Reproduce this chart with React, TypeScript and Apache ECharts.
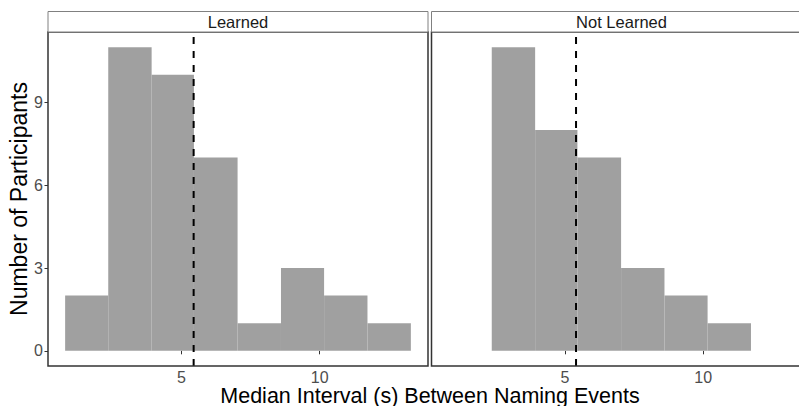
import React, { useEffect, useRef } from "react";
import * as echarts from "echarts";

const panels = ["Learned", "Not Learned"];
const binEdges = [0.79, 2.35, 3.92, 5.45, 7.03, 8.6, 10.16, 11.73, 13.3];
const countsLearned = [2, 11, 10, 7, 1, 3, 2, 1];
const countsNotLearned = [0, 11, 8, 7, 3, 2, 1, 0];
const medians = [5.44, 5.4];
const xTicks = [5, 10];
const yTicks = [0, 3, 6, 9];
const xRange = [0.17, 13.92];
const yRange = [-0.55, 11.55];
const xTitle = "Median Interval (s) Between Naming Events";
const yTitle = "Number of Participants";

const FONT = "'Liberation Sans', Arial, Helvetica, sans-serif";

export default function App() {
  const ref = useRef<HTMLDivElement>(null);
  useEffect(() => {
    if (!ref.current) return;
    const chart = echarts.init(ref.current, null, { renderer: "svg" });
    const grids = [
      { left: 48, top: 32, width: 380, height: 334 },
      { left: 431.5, top: 32, width: 380, height: 334 },
    ];
    const allCounts = [countsLearned, countsNotLearned];
    const series: any[] = [];
    allCounts.forEach((counts, i) => {
      const data = counts
        .map((c, j) => [binEdges[j], binEdges[j + 1], c])
        .filter((d) => d[2] > 0);
      series.push({
        type: "custom",
        xAxisIndex: i,
        yAxisIndex: i,
        encode: { x: [0, 1], y: 2 },
        data,
        renderItem: (params: any, api: any) => {
          const x0 = api.value(0);
          const x1 = api.value(1);
          const c = api.value(2);
          const p0 = api.coord([x0, c]);
          const p1 = api.coord([x1, 0]);
          return {
            type: "rect",
            shape: { x: p0[0], y: p0[1], width: p1[0] - p0[0], height: p1[1] - p0[1] },
            style: { fill: "#a0a0a0" },
          };
        },
        z: 1,
      });
      series.push({
        type: "line",
        xAxisIndex: i,
        yAxisIndex: i,
        data: [
          [medians[i], yRange[0]],
          [medians[i], yRange[1]],
        ],
        symbol: "none",
        lineStyle: { color: "#000", width: 2, type: [7, 7] },
        z: 3,
        silent: true,
      });
    });

    const option: any = {
      animation: false,
      grid: grids.map((g) => ({
        ...g,
        show: true,
        borderColor: "#333333",
        borderWidth: 1.5,
        backgroundColor: "transparent",
        z: 4,
      })),
      xAxis: grids.map((_, i) => ({
        type: "value",
        gridIndex: i,
        min: xRange[0],
        max: xRange[1],
        axisLine: { show: false },
        splitLine: { show: false },
        axisTick: {
          show: true,
          customValues: xTicks,
          length: 3.5,
          lineStyle: { color: "#333", width: 1 },
        },
        axisLabel: {
          customValues: xTicks,
          color: "#4d4d4d",
          fontSize: 16,
          lineHeight: 15,
          fontFamily: FONT,
          margin: 4,
        },
      })),
      yAxis: grids.map((_, i) => ({
        type: "value",
        gridIndex: i,
        min: yRange[0],
        max: yRange[1],
        axisLine: { show: false },
        splitLine: { show: false },
        axisTick: {
          show: i === 0,
          customValues: yTicks,
          length: 3.5,
          lineStyle: { color: "#333", width: 1 },
        },
        axisLabel: {
          show: i === 0,
          customValues: yTicks,
          color: "#4d4d4d",
          fontSize: 16,
          fontFamily: FONT,
          margin: 5,
        },
        name: i === 0 ? yTitle : "",
        nameLocation: "middle",
        nameGap: 15,
        nameTextStyle: { color: "#000", fontSize: 23, fontFamily: FONT },
      })),
      graphic: [
        ...grids.map((g) => ({
          type: "rect",
          shape: { x: g.left, y: 11.5, width: g.width, height: 20.5 },
          style: { fill: "#fff", stroke: "#808080", lineWidth: 1 },
          z: 5,
        })),
        ...grids.map((g, i) => ({
          type: "text",
          x: g.left + g.width / 2,
          y: 21.5,
          style: {
            text: panels[i],
            fill: "#1a1a1a",
            fontSize: 16.5,
            fontFamily: FONT,
            textAlign: "center",
            textVerticalAlign: "middle",
          },
          z: 6,
        })),
        {
          type: "text",
          x: 430,
          y: 396,
          style: {
            text: xTitle,
            fill: "#000",
            fontSize: 21.5,
            lineHeight: 20,
            fontFamily: FONT,
            textAlign: "center",
            textVerticalAlign: "middle",
          },
          z: 6,
        },
      ],
      series,
    };
    chart.setOption(option);
    return () => chart.dispose();
  }, []);
  return (
    <div
      style={{
        position: "absolute",
        left: 0,
        top: 0,
        width: 799,
        height: 406,
        overflow: "hidden",
        background: "#fff",
      }}
    >
      <div ref={ref} style={{ width: 830, height: 406 }} />
    </div>
  );
}
